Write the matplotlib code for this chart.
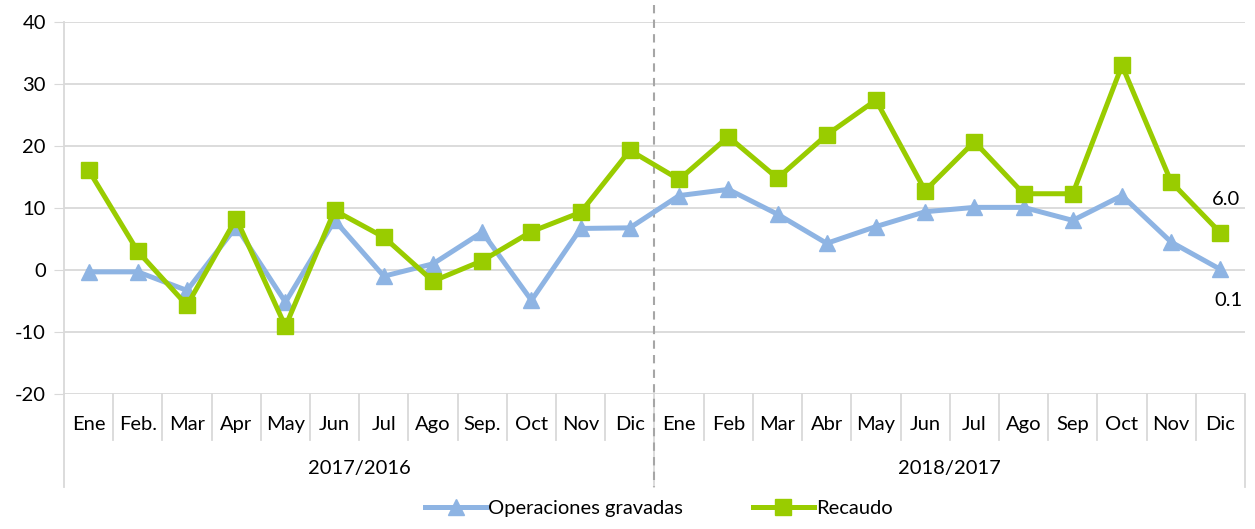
import matplotlib
matplotlib.use("Agg")
import matplotlib.pyplot as plt
import matplotlib.transforms as mtransforms

plt.rcParams['font.family'] = ['Lato', 'DejaVu Sans']
plt.rcParams['axes.unicode_minus'] = False

# Month labels for each of the two comparison periods
months_a = ["Ene", "Feb.", "Mar", "Apr", "May", "Jun", "Jul", "Ago", "Sep.", "Oct", "Nov", "Dic"]
months_b = ["Ene", "Feb", "Mar", "Abr", "May", "Jun", "Jul", "Ago", "Sep", "Oct", "Nov", "Dic"]
periods = ["2017/2016", "2018/2017"]

# Year-on-year growth (%)
operaciones = [-0.3, -0.3, -3.3, 7.0, -5.2, 8.0, -1.0, 1.0, 6.1, -4.9, 6.7, 6.8,
               12.0, 13.0, 9.0, 4.3, 7.0, 9.4, 10.1, 10.1, 8.0, 12.0, 4.5, 0.1]
recaudo = [16.1, 3.0, -5.7, 8.3, -9.1, 9.6, 5.3, -1.8, 1.5, 6.2, 9.3, 19.3,
           14.6, 21.5, 14.8, 21.8, 27.4, 12.8, 20.7, 12.3, 12.3, 33.0, 14.2, 6.0]

labels = months_a + months_b
x = list(range(len(labels)))

fig = plt.figure(figsize=(12.55, 5.29), dpi=100)
ax = fig.add_axes([64 / 1255, 1 - 394 / 529, (1245 - 64) / 1255, (394 - 22) / 529])

blue = "#8EB4E3"
green = "#99CC00"
grid = "#D9D9D9"
fs = 14.5

ax.plot(x, operaciones, color=blue, lw=3.6, marker="^", ms=11, label="Operaciones gravadas",
        zorder=3)
ax.plot(x, recaudo, color=green, lw=3.6, marker="s", ms=11, label="Recaudo", zorder=4)

ax.set_xlim(-0.5, len(labels) - 0.5)
ax.set_ylim(-20, 40)
ax.set_yticks(range(-20, 41, 10))
ax.yaxis.grid(True, color=grid, lw=1.3)
ax.set_axisbelow(True)
ax.tick_params(axis="y", length=7, color=grid, labelsize=fs, pad=6)
ax.set_xticks([])
for s in ["top", "right", "bottom"]:
    ax.spines[s].set_visible(False)
ax.spines["left"].set_color(grid)
ax.spines["left"].set_linewidth(1.3)

# Category axis: month labels, separators and period labels
trans = mtransforms.blended_transform_factory(ax.transData, ax.transAxes)
for i, lab in enumerate(labels):
    ax.text(i, -0.081, lab, transform=trans, ha="center", va="center", fontsize=fs)
for i in range(len(labels) + 1):
    bottom = -0.25 if i % 12 == 0 else -0.124
    ax.plot([i - 0.5, i - 0.5], [0, bottom], transform=trans, color=grid, lw=1.3,
            clip_on=False)
for k, p in enumerate(periods):
    ax.text(k * 12 + 5.5, -0.199, p, transform=trans, ha="center", va="center", fontsize=fs)

# Divider between the two periods
ax.plot([11.5, 11.5], [1.046, -0.25], transform=trans, color="#A6A6A6", lw=1.5,
        ls=(0, (4, 3)), clip_on=False, zorder=2)

# Value labels on the last month
ax.annotate(f"{recaudo[-1]:.1f}", (x[-1], recaudo[-1]), xytext=(4, 18),
            textcoords="offset points", ha="center", va="bottom", fontsize=fs)
ax.annotate(f"{operaciones[-1]:.1f}", (x[-1], operaciones[-1]), xytext=(6, -16),
            textcoords="offset points", ha="center", va="top", fontsize=fs)

fig.legend(loc="lower center", bbox_to_anchor=(0.525, -0.012), ncol=2, frameon=False,
           fontsize=fs, handlelength=3.0, columnspacing=3.5, handletextpad=0.1)

fig.savefig("out.png", dpi=100)
